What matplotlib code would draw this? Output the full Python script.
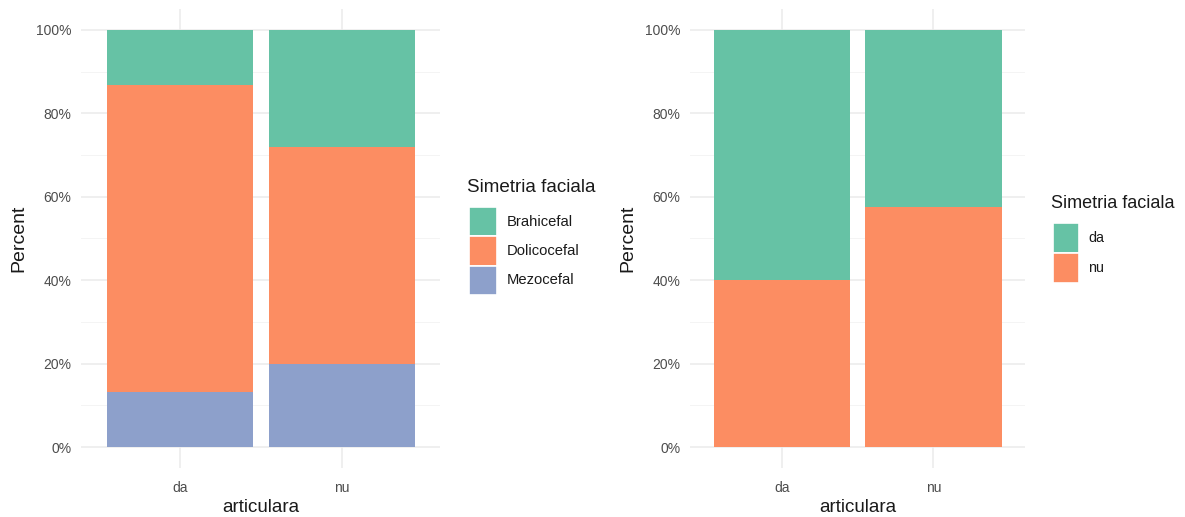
import matplotlib
matplotlib.use("Agg")
import matplotlib.pyplot as plt
from matplotlib.patches import Rectangle
from matplotlib.ticker import FuncFormatter, MultipleLocator

plt.rcParams['font.family'] = ['Liberation Sans', 'DejaVu Sans']

categories = ["da", "nu"]
# left panel (percent of each bar)
left_groups = ["Brahicefal", "Dolicocefal", "Mezocefal"]
left_values = {
    "Mezocefal": [13.3, 20.0],
    "Dolicocefal": [73.4, 52.0],
    "Brahicefal": [13.3, 28.0],
}
# right panel
right_groups = ["da", "nu"]
right_values = {
    "nu": [40.0, 57.5],
    "da": [60.0, 42.5],
}
colors = {"Brahicefal": "#66C2A5", "Dolicocefal": "#FC8D62", "Mezocefal": "#8DA0CB",
          "da": "#66C2A5", "nu": "#FC8D62"}

W, H = 1185, 517
fig = plt.figure(figsize=(W / 100, H / 100), dpi=100)
fig.patch.set_facecolor("white")

def fx(x):
    return x / W

def fy(y):
    return 1 - y / H

def px_axes(x0, x1, y0, y1):
    return fig.add_axes([x0 / W, 1 - y1 / H, (x1 - x0) / W, (y1 - y0) / H])

def style(ax):
    ax.set_xlim(-0.61, 1.605)
    ax.set_ylim(-5, 105)
    for s in ax.spines.values():
        s.set_visible(False)
    ax.yaxis.set_major_locator(MultipleLocator(20))
    ax.yaxis.set_minor_locator(MultipleLocator(10))
    ax.yaxis.set_major_formatter(FuncFormatter(lambda v, p: f"{v:.0f}%"))
    ax.set_xticks(range(len(categories)))
    ax.set_xticklabels(categories)
    ax.grid(True, which="major", axis="both", color="#EBEBEB", linewidth=1.1)
    ax.grid(True, which="minor", axis="y", color="#F2F2F2", linewidth=0.6)
    ax.set_axisbelow(True)
    ax.tick_params(axis="y", which="both", length=0, labelsize=10, labelcolor="#4D4D4D", pad=7)
    ax.tick_params(axis="x", which="both", length=0, labelsize=10, labelcolor="#4D4D4D", pad=9)
    ax.set_xlabel("articulara", fontsize=13.5, color="#1A1A1A", labelpad=3)
    ax.set_ylabel("Percent", fontsize=14, color="#1A1A1A", labelpad=6)

def stacked(ax, order_bottom_up, values):
    bottom = [0.0] * len(categories)
    x = list(range(len(categories)))
    for g in order_bottom_up:
        ax.bar(x, values[g], bottom=bottom, width=0.9, color=colors[g], linewidth=0)
        bottom = [b + v for b, v in zip(bottom, values[g])]

ax1 = px_axes(81, 440, 9, 468)
style(ax1)
stacked(ax1, ["Mezocefal", "Dolicocefal", "Brahicefal"], left_values)

ax2 = px_axes(690, 1025, 9, 468)
style(ax2)
stacked(ax2, ["nu", "da"], right_values)

def legend(groups, tx, ty, kx0, kx1, ky0, kh, lx, tsize, lsize):
    fig.text(fx(tx), fy(ty), "Simetria faciala", fontsize=tsize, color="#1A1A1A",
             ha="left", va="center")
    for i, g in enumerate(groups):
        y0 = ky0 + i * kh
        fig.patches.append(Rectangle((fx(kx0), fy(y0 + kh)), fx(kx1) - fx(kx0), kh / H,
                                     transform=fig.transFigure, facecolor=colors[g],
                                     edgecolor="white", linewidth=1.2))
        fig.text(fx(lx), fy(y0 + kh / 2), g, fontsize=lsize, color="#1A1A1A",
                 ha="left", va="center")

legend(left_groups, 467, 188, 469, 497, 207, 29.3, 507, 13.6, 10.6)
legend(right_groups, 1051, 203, 1053, 1079, 223, 30, 1088, 13, 10.4)

fig.savefig("out.png", dpi=100, facecolor="white")
